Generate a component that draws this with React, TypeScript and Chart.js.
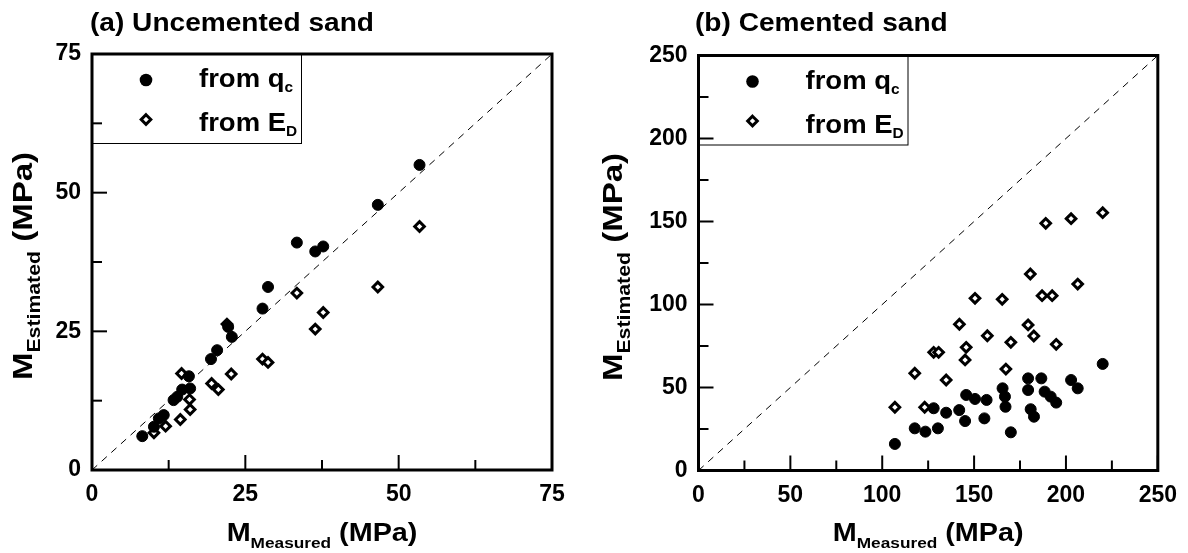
import React, { useEffect, useRef } from 'react';
import { Chart, registerables } from 'chart.js';
Chart.register(...registerables);

// ---------- Panel (a): Uncemented sand ----------
const uncQcMeasured = [8.2, 10.1, 10.9, 11.7, 13.3, 13.9, 14.7, 16.0, 15.8, 19.4, 20.4, 22.2, 22.8, 27.8, 28.7, 33.4, 36.4, 37.7, 46.6, 53.4];
const uncQcEstimated = [6.1, 7.8, 9.3, 9.9, 12.6, 13.2, 14.5, 14.7, 16.9, 20.0, 21.6, 25.8, 24.0, 29.1, 33.0, 41.0, 39.4, 40.3, 47.8, 55.0];
const uncEdMeasured = [10.1, 12.0, 14.4, 16.0, 15.9, 14.6, 19.5, 20.6, 22.7, 22.0, 27.8, 28.7, 33.4, 36.4, 37.7, 46.6, 53.4];
const uncEdEstimated = [6.7, 7.9, 9.1, 10.9, 12.7, 17.4, 15.6, 14.5, 17.3, 26.3, 20.0, 19.4, 31.9, 25.4, 28.4, 33.0, 43.9];
const uncMajorTicks = [0, 25, 50, 75];
const uncMinorTicks = [12.5, 37.5, 62.5];

// ---------- Panel (b): Cemented sand ----------
const cemQcMeasured = [220.0, 179.4, 186.6, 202.8, 206.4, 165.5, 166.8, 167.1, 179.4, 188.4, 191.7, 194.7, 145.7, 150.5, 156.8, 128.0, 134.8, 141.9, 145.1, 155.6, 180.8, 182.6, 117.7, 123.5, 130.3, 170.0, 106.9];
const cemQcEstimated = [64.2, 55.5, 55.5, 54.5, 49.5, 49.5, 44.5, 38.4, 48.5, 47.5, 44.5, 40.9, 45.5, 43.1, 42.5, 37.5, 34.8, 36.4, 29.8, 31.4, 36.9, 32.4, 25.4, 23.4, 25.4, 23.0, 16.0];
const cemEdMeasured = [220.0, 202.8, 189.0, 180.6, 206.4, 187.0, 192.5, 150.5, 165.3, 142.0, 179.4, 157.2, 182.5, 170.0, 194.7, 145.7, 145.1, 128.0, 130.7, 167.3, 117.7, 134.8, 106.9, 123.1];
const cemEdEstimated = [155.3, 151.7, 148.9, 118.4, 112.3, 105.3, 105.3, 103.7, 103.1, 88.1, 87.7, 81.2, 81.0, 77.2, 76.0, 74.2, 66.6, 71.2, 71.2, 61.1, 58.6, 54.5, 38.1, 38.1];
const cemMajorTicks = [0, 50, 100, 150, 200, 250];
const cemMinorTicks = [25, 75, 125, 175, 225];

const legendLabels = [
  [{ t: 'from q', sub: false }, { t: 'c', sub: true }],
  [{ t: 'from E', sub: false }, { t: 'D', sub: true }],
];

const FONT = '"Liberation Sans", Arial, Helvetica, sans-serif';
const W = 594;
const H = 553;

type Seg = { t: string; size: number; dy: number };

function richWidth(ctx: CanvasRenderingContext2D, segs: Seg[], sx: number) {
  let w = 0;
  for (const s of segs) {
    ctx.font = `bold ${s.size}px ${FONT}`;
    w += ctx.measureText(s.t).width * sx;
  }
  return w;
}

function drawRich(ctx: CanvasRenderingContext2D, segs: Seg[], x: number, y: number, sx: number, align: 'left' | 'center') {
  let cx = align === 'center' ? x - richWidth(ctx, segs, sx) / 2 : x;
  ctx.textAlign = 'left';
  ctx.textBaseline = 'alphabetic';
  ctx.fillStyle = '#000';
  for (const s of segs) {
    ctx.font = `bold ${s.size}px ${FONT}`;
    ctx.save();
    ctx.translate(cx, y + s.dy);
    ctx.scale(sx, 1);
    ctx.fillText(s.t, 0, 0);
    ctx.restore();
    cx += ctx.measureText(s.t).width * sx;
  }
}

type PanelCfg = {
  title: string;
  titleX: number;
  max: number;
  major: number[];
  minor: number[];
  qcX: number[];
  qcY: number[];
  edX: number[];
  edY: number[];
  area: { left: number; right: number; top: number; bottom: number };
  yTitleX: number;
};

function makePlugin(cfg: PanelCfg) {
  return {
    id: 'decor',
    afterDatasetsDraw(chart: any) {
      const ctx: CanvasRenderingContext2D = chart.ctx;
      const a = chart.chartArea;
      const xs = chart.scales.x;
      const ys = chart.scales.y;
      ctx.save();
      // legend box
      const lw = 209;
      const lh = 89;
      ctx.fillStyle = '#fff';
      ctx.fillRect(a.left, a.top, lw, lh);
      ctx.strokeStyle = '#000';
      ctx.lineWidth = 1;
      ctx.strokeRect(a.left + 0.5, a.top + 0.5, lw, lh);
      // markers
      const mx = a.left + 54;
      ctx.fillStyle = '#000';
      ctx.beginPath();
      ctx.arc(mx, a.top + 26, 6.3, 0, Math.PI * 2);
      ctx.fill();
      const dy = a.top + 65.5;
      const r = 4.8;
      ctx.beginPath();
      ctx.moveTo(mx, dy - r);
      ctx.lineTo(mx + r, dy);
      ctx.lineTo(mx, dy + r);
      ctx.lineTo(mx - r, dy);
      ctx.closePath();
      ctx.fillStyle = '#fff';
      ctx.fill();
      ctx.lineWidth = 3;
      ctx.strokeStyle = '#000';
      ctx.stroke();
      // legend text
      const baselines = [a.top + 33, a.top + 77];
      legendLabels.forEach((lab, i) => {
        const segs: Seg[] = lab.map((p) => ({ t: p.t, size: p.sub ? 14 : 25, dy: p.sub ? 5 : 0 }));
        drawRich(ctx, segs, a.left + 107, baselines[i], 1.1, 'left');
      });
      // frame
      ctx.strokeStyle = '#000';
      ctx.lineWidth = 3;
      ctx.strokeRect(a.left, a.top, a.right - a.left, a.bottom - a.top);
      // inward ticks
      ctx.lineWidth = 2;
      const tick = (v: number, len: number) => {
        const px = xs.getPixelForValue(v);
        ctx.beginPath();
        ctx.moveTo(px, a.bottom);
        ctx.lineTo(px, a.bottom - len);
        ctx.stroke();
        const py = ys.getPixelForValue(v);
        ctx.beginPath();
        ctx.moveTo(a.left, py);
        ctx.lineTo(a.left + len, py);
        ctx.stroke();
      };
      cfg.major.forEach((v) => tick(v, 15));
      cfg.minor.forEach((v) => tick(v, 10));
      // panel title
      drawRich(ctx, [{ t: cfg.title, size: 26, dy: 0 }], cfg.titleX, 31, 1.08, 'left');
      // x axis title
      const xc = (a.left + a.right) / 2;
      drawRich(
        ctx,
        [
          { t: 'M', size: 25, dy: 0 },
          { t: 'Measured', size: 15, dy: 7 },
          { t: ' (MPa)', size: 25, dy: 0 },
        ],
        xc,
        541,
        1.15,
        'center'
      );
      // y axis title
      const yc = (a.top + a.bottom) / 2 + 4;
      ctx.save();
      ctx.translate(cfg.yTitleX, yc);
      ctx.rotate(-Math.PI / 2);
      drawRich(
        ctx,
        [
          { t: 'M', size: 28, dy: 0 },
          { t: 'Estimated', size: 18, dy: 8 },
          { t: ' (MPa)', size: 28, dy: 0 },
        ],
        0,
        0,
        1.18,
        'center'
      );
      ctx.restore();
      ctx.restore();
    },
  };
}

function Panel({ cfg, left }: { cfg: PanelCfg; left: number }) {
  const ref = useRef<HTMLCanvasElement | null>(null);
  useEffect(() => {
    if (!ref.current) return;
    const qc = cfg.qcX.map((x, i) => ({ x, y: cfg.qcY[i] }));
    const ed = cfg.edX.map((x, i) => ({ x, y: cfg.edY[i] }));
    const a = cfg.area;
    const setTicks = (values: number[]) => (scale: any) => {
      scale.ticks = values.map((v) => ({ value: v }));
    };
    const chart = new Chart(ref.current, {
      type: 'scatter',
      data: {
        datasets: [
          {
            label: 'from qc',
            data: qc,
            pointStyle: 'circle',
            pointRadius: 5.5,
            pointBorderWidth: 1,
            backgroundColor: '#000',
            borderColor: '#000',
            order: 1,
          },
          {
            label: 'from ED',
            data: ed,
            pointStyle: 'rectRot',
            pointRadius: 4.8,
            pointBorderWidth: 3,
            backgroundColor: '#fff',
            borderColor: '#000',
            order: 2,
          },
          {
            type: 'line',
            label: '1:1',
            data: [
              { x: 0, y: 0 },
              { x: cfg.max, y: cfg.max },
            ],
            borderColor: '#000',
            borderWidth: 1,
            borderDash: [7, 6],
            pointRadius: 0,
            fill: false,
            order: 3,
          } as any,
        ],
      },
      options: {
        responsive: false,
        animation: false,
        events: [],
        layout: { padding: { top: a.top, right: W - a.right, left: 0, bottom: 0 } },
        plugins: { legend: { display: false }, tooltip: { enabled: false }, title: { display: false } },
        scales: {
          x: {
            type: 'linear',
            min: 0,
            max: cfg.max,
            grid: { display: false, drawTicks: false },
            border: { display: false },
            afterBuildTicks: setTicks(cfg.major),
            afterFit: (s: any) => {
              s.height = H - a.bottom;
            },
            ticks: { color: '#000', font: { family: FONT, size: 23, weight: 'bold' }, padding: 11, maxRotation: 0 },
          },
          y: {
            type: 'linear',
            min: 0,
            max: cfg.max,
            grid: { display: false, drawTicks: false },
            border: { display: false },
            afterBuildTicks: setTicks(cfg.major),
            afterFit: (s: any) => {
              s.width = a.left;
            },
            ticks: { color: '#000', font: { family: FONT, size: 23, weight: 'bold' }, padding: 11 },
          },
        },
      } as any,
      plugins: [makePlugin(cfg)],
    });
    return () => chart.destroy();
  }, [cfg]);
  return (
    <canvas
      ref={ref}
      width={W}
      height={H}
      style={{ position: 'absolute', left, top: 0, width: W, height: H }}
    />
  );
}

const leftCfg: PanelCfg = {
  title: '(a) Uncemented sand',
  titleX: 90,
  max: 75,
  major: uncMajorTicks,
  minor: uncMinorTicks,
  qcX: uncQcMeasured,
  qcY: uncQcEstimated,
  edX: uncEdMeasured,
  edY: uncEdEstimated,
  area: { left: 92, right: 552, top: 54, bottom: 470 },
  yTitleX: 32,
};

const rightCfg: PanelCfg = {
  title: '(b) Cemented sand',
  titleX: 101,
  max: 250,
  major: cemMajorTicks,
  minor: cemMinorTicks,
  qcX: cemQcMeasured,
  qcY: cemQcEstimated,
  edX: cemEdMeasured,
  edY: cemEdEstimated,
  area: { left: 104.5, right: 566.5, top: 55.5, bottom: 470.5 },
  yTitleX: 28,
};

export default function App() {
  return (
    <div style={{ position: 'absolute', left: 0, top: 0, width: 1188, height: 553, background: '#fff', overflow: 'hidden' }}>
      <Panel cfg={leftCfg} left={0} />
      <Panel cfg={rightCfg} left={594} />
    </div>
  );
}
